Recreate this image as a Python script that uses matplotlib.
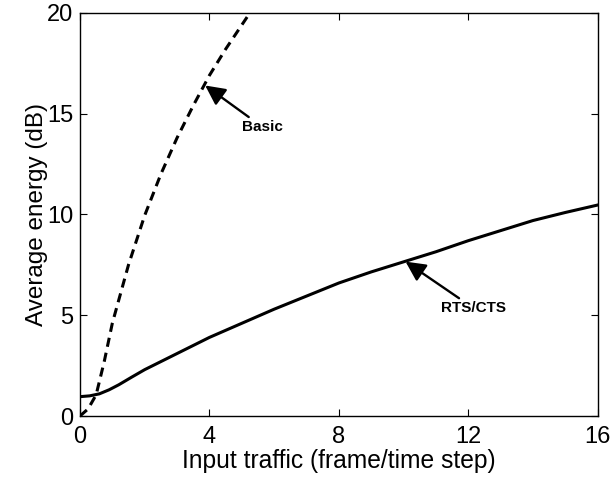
import matplotlib
matplotlib.use("Agg")
import matplotlib.pyplot as plt
import numpy as np

plt.rcParams["font.family"] = ["Liberation Sans", "DejaVu Sans"]

# average energy vs. offered load for the two access schemes
basic_x = [0, 0.25, 0.5, 0.75, 1.0, 1.5, 2.0, 2.5, 3.0, 3.5, 4.0, 4.5, 5.0, 5.5]
basic_y = [0, 0.35, 1.05, 2.7, 4.6, 7.5, 9.95, 12.0, 13.8, 15.4, 16.9, 18.2, 19.4, 20.6]

rts_x = [0, 0.3, 0.6, 0.9, 1.2, 1.6, 2, 3, 4, 5, 6, 7, 8, 9, 10, 11, 12,
         13, 14, 15, 16]
rts_y = [0.96, 1.0, 1.1, 1.3, 1.55, 1.93, 2.3, 3.1, 3.9, 4.6, 5.3, 5.95,
         6.6, 7.15, 7.65, 8.15, 8.7, 9.2, 9.7, 10.1, 10.47]

x_ticks = [0, 4, 8, 12, 16]
y_ticks = [0, 5, 10, 15, 20]

fig = plt.figure(figsize=(6.15, 4.79), dpi=100)
ax = fig.add_axes([0.130, 0.1315, 0.842, 0.8415])

ax.plot(basic_x, basic_y, color="black", linewidth=2.2, linestyle=(0, (3, 2)))
ax.plot(rts_x, rts_y, color="black", linewidth=2.2)

ax.set_xlim(0, 16)
ax.set_ylim(0, 20)
ax.set_xticks(x_ticks)
ax.set_yticks(y_ticks)
ax.tick_params(direction="in", length=5, width=0.8, top=True, right=True,
               labelsize=17)
ax.tick_params(axis="x", pad=7)
ax.tick_params(axis="y", pad=5)
for s in ax.spines.values():
    s.set_linewidth(1.0)

ax.set_xlabel("Input traffic (frame/time step)", fontsize=17.7, labelpad=1)
ax.set_ylabel("Average energy (dB)", fontsize=17.5, labelpad=-1)

arrow = dict(arrowstyle="-|>,head_length=0.6,head_width=0.3", color="black",
             lw=1.7, mutation_scale=20, shrinkA=0, shrinkB=0)
ax.annotate("Basic", xy=(3.87, 16.4), xytext=(5.0, 14.35), fontsize=11,
            fontweight="bold", va="center", ha="left", arrowprops=arrow)
ax.annotate("RTS/CTS", xy=(10.06, 7.66), xytext=(11.15, 5.36), fontsize=11,
            fontweight="bold", va="center", ha="left", arrowprops=arrow)

fig.savefig("out.png", dpi=100)
